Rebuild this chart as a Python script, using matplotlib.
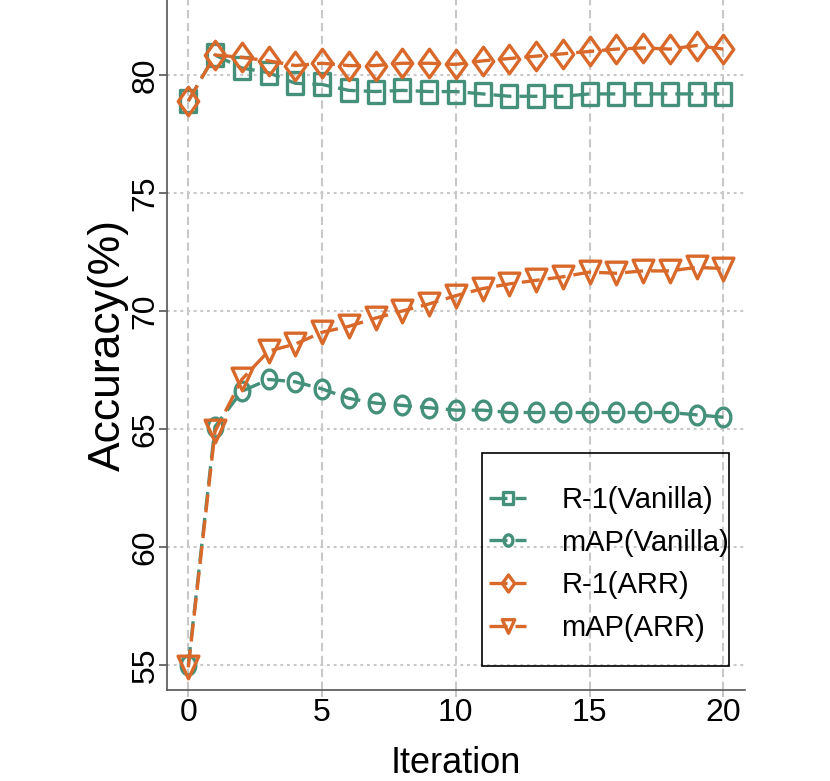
import numpy as np
import matplotlib
matplotlib.use('Agg')
import matplotlib.pyplot as plt
from matplotlib.path import Path
from matplotlib.markers import MarkerStyle
from matplotlib.patches import Rectangle

# ---- data ----
iterations = list(range(21))
r1_vanilla = [78.9, 80.85, 80.3, 80.1, 79.65, 79.6, 79.35, 79.3, 79.35, 79.3, 79.3,
              79.2, 79.1, 79.1, 79.1, 79.2, 79.2, 79.2, 79.2, 79.2, 79.2]
map_vanilla = [55.0, 65.1, 66.6, 67.1, 67.0, 66.7, 66.3, 66.1, 66.0, 65.9, 65.8,
               65.8, 65.7, 65.7, 65.7, 65.7, 65.7, 65.7, 65.7, 65.6, 65.5]
r1_arr = [78.9, 80.85, 80.75, 80.6, 80.4, 80.5, 80.4, 80.4, 80.5, 80.5, 80.45,
          80.6, 80.7, 80.8, 80.9, 81.0, 81.1, 81.15, 81.1, 81.25, 81.1]
map_arr = [54.9, 64.9, 67.1, 68.3, 68.6, 69.1, 69.35, 69.7, 70.0, 70.3, 70.65,
           70.95, 71.15, 71.3, 71.45, 71.65, 71.6, 71.7, 71.7, 71.85, 71.8]
series_labels = ['R-1(Vanilla)', 'mAP(Vanilla)', 'R-1(ARR)', 'mAP(ARR)']
xticks = [0, 5, 10, 15, 20]
yticks = [55, 60, 65, 70, 75, 80]

GREEN = '#45907a'
ORANGE = '#d9692a'
FONT = ['Liberation Sans', 'DejaVu Sans']
plt.rcParams['font.family'] = FONT

# ---- marker shapes (slightly tall, like the reference) ----
def ellipse(aspect):
    t = np.linspace(0, 2 * np.pi, 65)
    return Path(np.c_[np.cos(t) / aspect, np.sin(t)], closed=True)

def square(aspect):
    w = 1 / aspect
    return Path([(-w, -1), (w, -1), (w, 1), (-w, 1), (-w, -1)], closed=True)

def diamond(w):
    return Path([(0, 1), (w, 0), (0, -1), (-w, 0), (0, 1)], closed=True)

def tri_down(w):
    return Path([(-w, 1), (w, 1), (0, -1), (-w, 1)], closed=True)

m_square = MarkerStyle(square(1.4), joinstyle='miter')
m_circle = MarkerStyle(ellipse(1.28), joinstyle='miter')
m_diamond = MarkerStyle(diamond(0.72), joinstyle='miter')
m_tri = MarkerStyle(tri_down(0.92), joinstyle='miter')

fig = plt.figure(figsize=(8.3, 7.81), dpi=100)
ax = fig.add_axes([166.7 / 830, 1 - 690 / 781, (745 - 166.7) / 830, 690 / 781])

lw = 2.4
common = dict(lw=lw, mew=lw, mfc='none', dashes=(5.4, 2.4), zorder=3)
ax.plot(iterations, r1_vanilla, color=GREEN, marker=m_square, ms=15.5, label=series_labels[0], **common)
ax.plot(iterations, map_vanilla, color=GREEN, marker=m_circle, ms=13.5, label=series_labels[1], **common)
ax.plot(iterations, r1_arr, color=ORANGE, marker=m_diamond, ms=20.5, label=series_labels[2], **common)
ax.plot(iterations, map_arr, color=ORANGE, marker=m_tri, ms=16.3, label=series_labels[3], **common)

ax.set_xlim(-0.807, 20.81)
ax.set_ylim(53.94, 83.18)
ax.set_xticks(xticks)
ax.set_yticks(yticks)

ax.grid(False)
for x in xticks:
    ax.axvline(x, color='#c8c8c8', lw=1.5, dashes=(4.0, 2.2), zorder=1)
for y in yticks:
    ax.axhline(y, color='#c8c8c8', lw=1.5, dashes=(1.4, 1.8), zorder=1)

for s in ['top', 'right']:
    ax.spines[s].set_visible(False)
for s in ['left', 'bottom']:
    ax.spines[s].set_color('#555555')
    ax.spines[s].set_linewidth(1.2)

ax.tick_params(axis='x', direction='out', length=5, width=1.2, color='#bbbbbb',
               pad=0.5, labelsize=23)
ax.tick_params(axis='y', direction='out', length=6, width=1.2, color='#555555',
               pad=-1.5, labelsize=23)
for lab in ax.get_yticklabels():
    lab.set_rotation(90)
    lab.set_va('center')
    lab.set_ha('right')

ax.set_xlabel('Iteration', fontsize=26, labelpad=13)
ax.set_ylabel('Accuracy(%)', fontsize=32, labelpad=1)

leg = ax.legend(loc='upper left', bbox_to_anchor=(489 / 830, 1 - 486 / 781),
                bbox_transform=fig.transFigure, frameon=False, fontsize=21,
                handlelength=1.28, handletextpad=1.2, labelspacing=0.5,
                borderpad=0, borderaxespad=0, markerscale=0.6)
ax.add_patch(Rectangle((0.545, 0.0348), 0.427, 0.3087, transform=ax.transAxes,
                       fill=False, ec='black', lw=1.2, zorder=5))

fig.savefig('out.png', dpi=100)
